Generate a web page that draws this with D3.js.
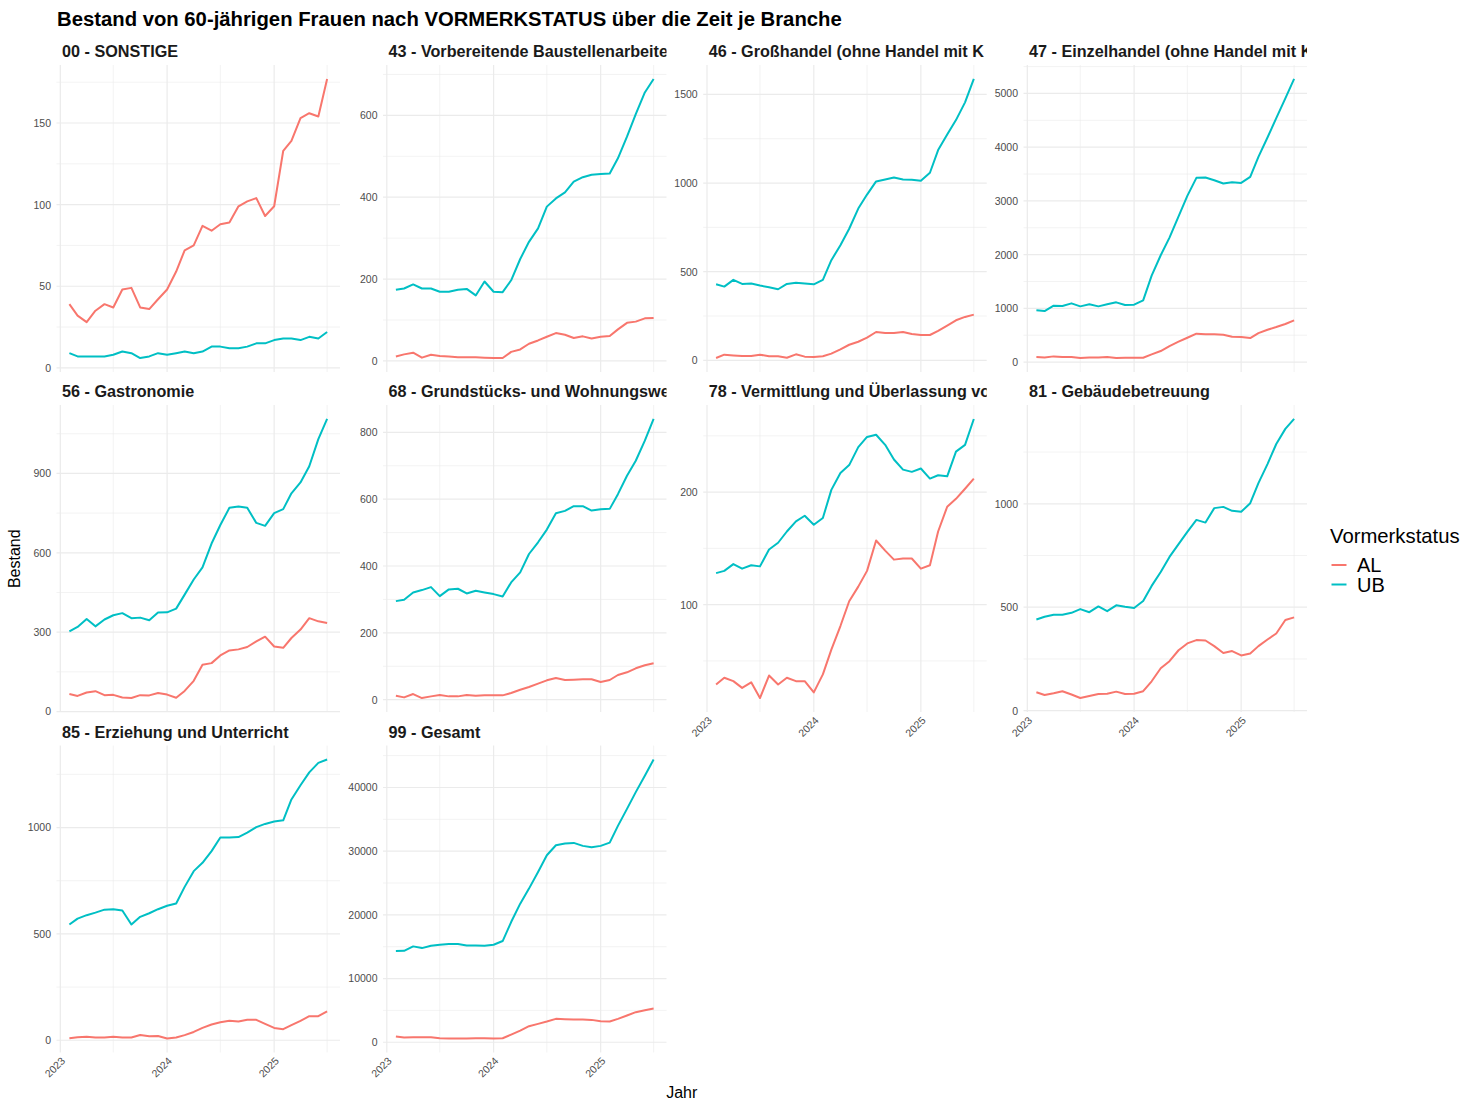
<!DOCTYPE html>
<html><head><meta charset="utf-8">
<script src="https://cdn.jsdelivr.net/npm/d3@7"></script>
<style>
body{margin:0;background:#fff}
svg{display:block}
text{font-family:"Liberation Sans", Arial, Helvetica, sans-serif}
</style>
</head><body>
<svg id="c" width="1468" height="1102"></svg>
<script>
// ---------- DATA ----------
const months = d3.range(30).map(i => new Date(2023, 1 + i, 1)); // Feb 2023 .. Jul 2025
// facet labels as visible in the (clipped) strips
const branches = [
  "00 - SONSTIGE",
  "43 - Vorbereitende Baustellenarbeite",
  "46 - Großhandel (ohne Handel mit K",
  "47 - Einzelhandel (ohne Handel mit K",
  "56 - Gastronomie",
  "68 - Grundstücks- und Wohnungswe",
  "78 - Vermittlung und Überlassung vo",
  "81 - Gebäudebetreuung",
  "85 - Erziehung und Unterricht",
  "99 - Gesamt"
];
const statusLabels = ["AL", "UB"];

const AL_00 = [39,32,28,35,39,37,48,49,37,36,42,48,59,72,75,87,84,88,89,99,102,104,93,99,133,139,153,156,154,177];
const UB_00 = [9,7,7,7,7,8,10,9,6,7,9,8,9,10,9,10,13,13,12,12,13,15,15,17,18,18,17,19,18,22];
const AL_43 = [11,16,20,8,15,12,11,9,9,9,8,7,7,22,28,42,50,59,68,64,56,60,55,59,61,77,93,96,104,105];
const UB_43 = [174,177,187,177,177,169,169,174,176,160,194,169,168,197,249,291,324,377,397,412,438,449,455,457,458,495,548,603,656,689];
const AL_46 = [13,32,28,24,24,32,23,23,15,34,21,19,23,38,62,88,105,128,160,154,154,160,149,143,143,166,196,226,245,258];
const UB_46 = [429,416,454,431,433,422,412,401,431,437,433,429,454,565,649,742,856,935,1009,1020,1031,1020,1018,1013,1058,1186,1274,1355,1455,1587];
const AL_47 = [93,87,106,93,93,75,87,87,93,75,81,81,81,143,205,298,379,453,528,516,516,509,472,466,447,540,602,652,708,776];
const UB_47 = [963,950,1050,1043,1093,1037,1075,1037,1075,1112,1062,1068,1149,1609,1988,2317,2714,3093,3429,3435,3385,3323,3348,3335,3447,3820,4180,4540,4910,5270];
const AL_56 = [66,59,72,77,62,63,53,51,62,61,70,64,52,78,116,177,183,212,231,235,244,265,283,246,241,278,310,353,341,335];
const UB_56 = [303,320,350,322,348,364,372,353,355,345,374,375,389,442,499,545,635,705,770,775,770,713,702,750,765,825,866,927,1030,1106];
const AL_68 = [12,7,17,5,10,14,10,10,14,12,13,13,13,20,30,38,48,58,65,59,60,61,61,53,59,74,82,94,103,109];
const UB_68 = [295,299,321,328,337,310,330,332,318,326,321,316,309,351,381,436,471,509,558,565,579,579,566,570,571,615,670,715,775,840];
const AL_78 = [29,35,32,26,31,17,37,29,35,32,32,22,38,60,81,103,116,130,157,148,140,141,141,132,135,165,187,194,203,212];
const UB_78 = [128,130,136,132,135,134,149,155,165,174,179,171,177,202,217,224,240,249,251,242,229,220,218,221,212,215,214,236,242,265];
const AL_81 = [89,76,84,94,78,61,71,81,82,92,81,82,94,142,205,239,292,325,341,339,312,279,288,267,276,312,344,373,438,451];
const UB_81 = [441,454,464,464,473,491,476,504,481,509,502,496,530,603,670,743,805,864,922,909,979,985,966,961,1003,1100,1192,1289,1362,1410];
const AL_85 = [9,14,17,13,13,17,13,13,25,19,20,8,13,24,39,58,74,85,92,88,96,96,77,58,52,71,91,113,113,136];
const UB_85 = [544,572,588,600,614,616,610,544,580,597,616,632,643,721,795,834,889,953,953,955,976,1002,1017,1028,1034,1132,1199,1259,1304,1320];
const AL_99 = [890,730,790,790,790,630,580,580,580,630,630,580,630,1200,1830,2520,2880,3250,3670,3620,3560,3560,3510,3300,3250,3670,4190,4720,5030,5290];
const UB_99 = [14310,14360,15050,14780,15150,15310,15410,15410,15200,15200,15150,15310,15890,18870,21760,24120,26740,29360,30930,31190,31300,30830,30620,30830,31350,33970,36640,39270,41840,44400];

const yTicks_00 = [0,50,100,150];
const yTicks_43 = [0,200,400,600];
const yTicks_46 = [0,500,1000,1500];
const yTicks_47 = [0,1000,2000,3000,4000,5000];
const yTicks_56 = [0,300,600,900];
const yTicks_68 = [0,200,400,600,800];
const yTicks_78 = [100,200];
const yTicks_81 = [0,500,1000];
const yTicks_85 = [0,500,1000];
const yTicks_99 = [0,10000,20000,30000,40000];
const xTickYears = [2023, 2024, 2025];

const seriesAL = [AL_00, AL_43, AL_46, AL_47, AL_56, AL_68, AL_78, AL_81, AL_85, AL_99];
const seriesUB = [UB_00, UB_43, UB_46, UB_47, UB_56, UB_68, UB_78, UB_81, UB_85, UB_99];
const yTicks = [yTicks_00, yTicks_43, yTicks_46, yTicks_47, yTicks_56, yTicks_68, yTicks_78, yTicks_81, yTicks_85, yTicks_99];

// ---------- LAYOUT ----------
const colors = {AL: "#F8766D", UB: "#00BFC4"};
const PW = 283.5, PH = 307;
const lefts = [56.5, 383, 703.2, 1023.5];
const tops = [65, 405, 745.5];
const gridCol = "#EBEBEB";
const axisTextCol = "#4D4D4D";

const svg = d3.select("#c");
const defs = svg.append("defs");

svg.append("text").attr("x", 57).attr("y", 26)
  .attr("font-size", 20.3).attr("font-weight", "bold").attr("fill", "#000")
  .text("Bestand von 60-jährigen Frauen nach VORMERKSTATUS über die Zeit je Branche");

const tExt = d3.extent(months);
const tSpan = tExt[1] - tExt[0];
const xDomain = [new Date(+tExt[0] - 0.05 * tSpan), new Date(+tExt[1] + 0.05 * tSpan)];

branches.forEach((name, i) => {
  const col = i % 4, row = Math.floor(i / 4);
  const x0 = lefts[col], y0 = tops[row];
  const g = svg.append("g").attr("transform", `translate(${x0},${y0})`);

  const x = d3.scaleTime().domain(xDomain).range([0, PW]);
  const all = seriesAL[i].concat(seriesUB[i]);
  const [mn, mx] = d3.extent(all);
  const pad = (mx - mn) * 0.05;
  const y = d3.scaleLinear().domain([mn - pad, mx + pad]).range([PH, 0]);

  // grid
  const t = yTicks[i];
  const step = t[1] - t[0];
  const yMinor = [];
  for (let v = t[0] - step / 2; v <= y.domain()[1]; v += step) if (v >= y.domain()[0]) yMinor.push(v);
  const xMinor = [2022, 2023, 2024, 2025].map(yr => new Date(yr, 6, 1)).filter(d => d >= xDomain[0] && d <= xDomain[1]);
  const xMajor = xTickYears.map(yr => new Date(yr, 0, 1)).filter(d => d >= xDomain[0] && d <= xDomain[1]);

  g.selectAll(".ymin").data(yMinor).join("line")
    .attr("x1", 0).attr("x2", PW).attr("y1", d => y(d)).attr("y2", d => y(d))
    .attr("stroke", gridCol).attr("stroke-width", 0.6);
  g.selectAll(".xmin").data(xMinor).join("line")
    .attr("y1", 0).attr("y2", PH).attr("x1", d => x(d)).attr("x2", d => x(d))
    .attr("stroke", gridCol).attr("stroke-width", 0.6);
  g.selectAll(".ymaj").data(t).join("line")
    .attr("x1", 0).attr("x2", PW).attr("y1", d => y(d)).attr("y2", d => y(d))
    .attr("stroke", gridCol).attr("stroke-width", 1.2);
  g.selectAll(".xmaj").data(xMajor).join("line")
    .attr("y1", 0).attr("y2", PH).attr("x1", d => x(d)).attr("x2", d => x(d))
    .attr("stroke", gridCol).attr("stroke-width", 1.2);

  // y axis labels
  const ya = g.append("g").call(d3.axisLeft(y).tickValues(t).tickSize(0).tickPadding(5.5).tickFormat(d3.format("d")));
  ya.select(".domain").remove();
  ya.selectAll("text").attr("fill", axisTextCol).attr("font-size", 10.5)
    .attr("font-family", '"Liberation Sans", Arial, sans-serif');

  // x axis labels (bottom panel of each column)
  if (i + 4 >= branches.length) {
    const xa = g.append("g").attr("transform", `translate(0,${PH})`)
      .call(d3.axisBottom(x).tickValues(xMajor).tickSize(0).tickFormat(d3.timeFormat("%Y")));
    xa.select(".domain").remove();
    xa.selectAll("text").attr("fill", axisTextCol).attr("font-size", 10.5)
      .attr("font-family", '"Liberation Sans", Arial, sans-serif')
      .attr("text-anchor", "end").attr("dy", null).attr("y", 0)
      .attr("transform", "translate(5,9) rotate(-45)");
  }

  // lines
  const line = d3.line().x((d, k) => x(months[k])).y(d => y(d));
  [["AL", seriesAL[i]], ["UB", seriesUB[i]]].forEach(([k, vals]) => {
    g.append("path").datum(vals).attr("d", line).attr("fill", "none")
      .attr("stroke", colors[k]).attr("stroke-width", 2)
      .attr("stroke-linejoin", "round").attr("stroke-linecap", "butt");
  });

  // strip (clipped to panel width)
  const cid = "clip" + i;
  defs.append("clipPath").attr("id", cid).append("rect")
    .attr("x", 0).attr("y", -30).attr("width", PW).attr("height", 30);
  g.append("g").attr("clip-path", `url(#${cid})`).append("text")
    .attr("x", 5.5).attr("y", -8).attr("font-size", 16.2).attr("font-weight", "bold")
    .attr("fill", "#1A1A1A").text(name);
});

// axis titles
svg.append("text").attr("transform", `translate(20,${(tops[0] + tops[2] + PH) / 2}) rotate(-90)`)
  .attr("text-anchor", "middle").attr("font-size", 16).attr("fill", "#000").text("Bestand");
svg.append("text").attr("x", (lefts[0] + lefts[3] + PW) / 2).attr("y", 1098)
  .attr("text-anchor", "middle").attr("font-size", 16).attr("fill", "#000").text("Jahr");

// legend
const lg = svg.append("g").attr("transform", "translate(1330,0)");
lg.append("text").attr("x", 0).attr("y", 543).attr("font-size", 20.3).attr("fill", "#000").text("Vormerkstatus");
statusLabels.forEach((k, j) => {
  const yy = 565 + j * 19.5;
  lg.append("line").attr("x1", 1.5).attr("x2", 16.5).attr("y1", yy).attr("y2", yy)
    .attr("stroke", colors[k]).attr("stroke-width", 2);
  lg.append("text").attr("x", 27).attr("y", yy).attr("dy", "0.36em").attr("font-size", 20)
    .attr("fill", "#000").text(k);
});
</script>
</body></html>
